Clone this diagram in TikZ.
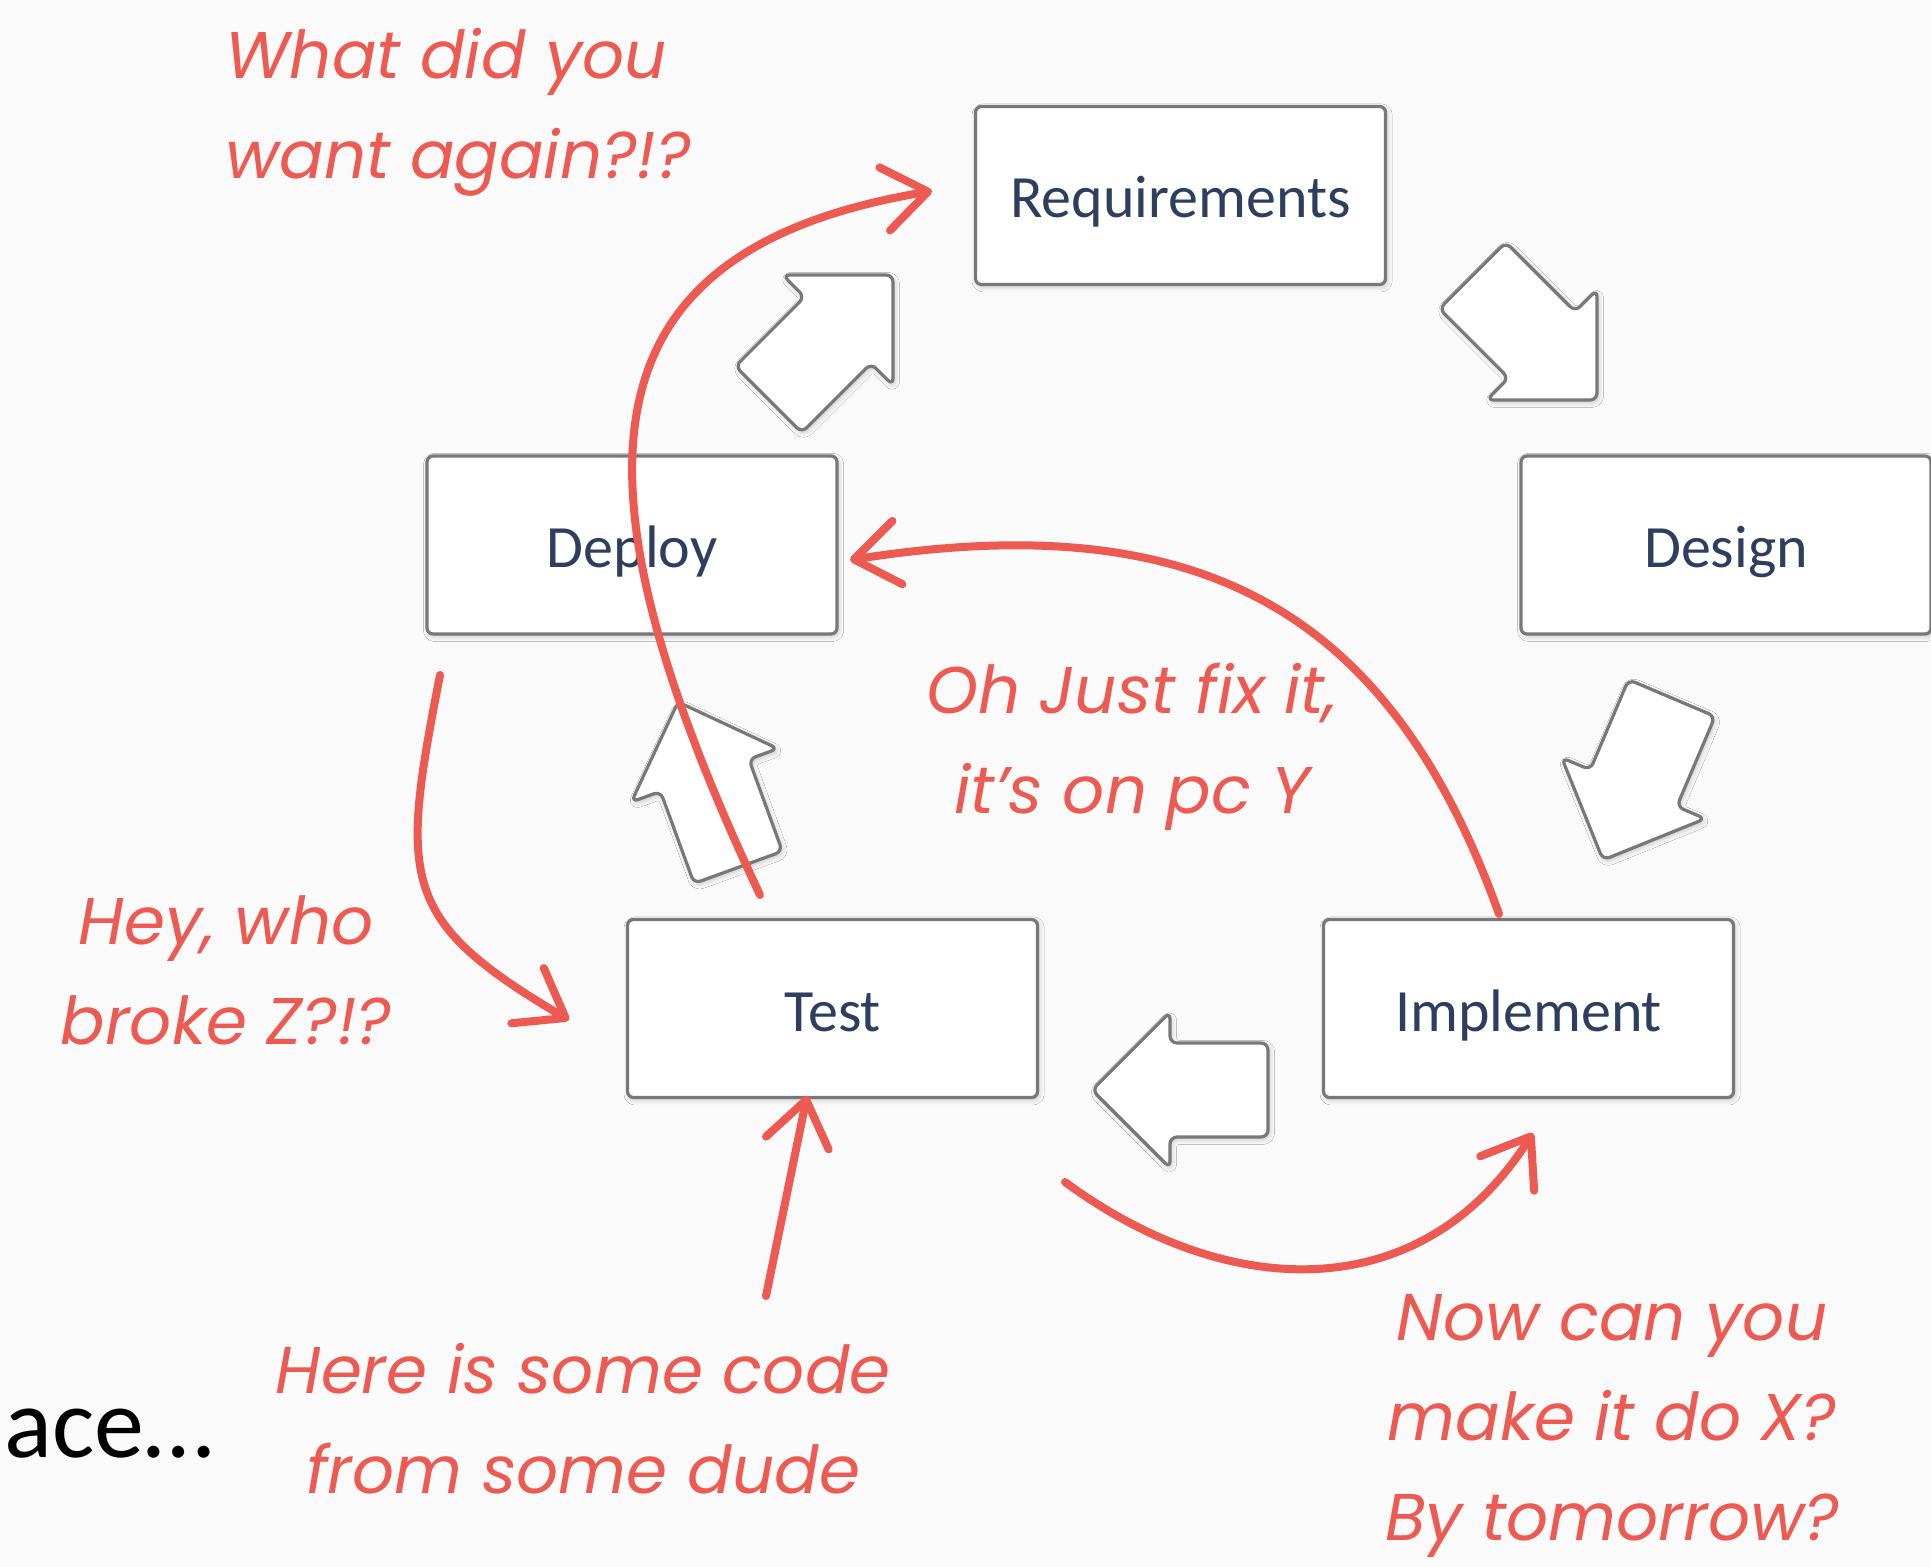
\documentclass[tikz,border=0pt]{standalone}
\usepackage{fontspec}
\usetikzlibrary{arrows.meta,shadows.blur}
\newfontfamily\boxfont{Carlito}
\newfontfamily\handfont{Poppins}
\definecolor{bg}{RGB}{250,250,250}
\definecolor{boxline}{RGB}{120,120,120}
\definecolor{boxtext}{RGB}{45,62,95}
\definecolor{scribble}{RGB}{236,90,82}
\begin{document}
\begin{tikzpicture}[x=0.5pt,y=-0.5pt,
  stage/.style={draw=boxline, line width=1.6pt, fill=white, rounded corners=3pt,
    minimum width=205pt, minimum height=89pt, inner sep=0pt,
    font=\boxfont\fontsize{30}{36}\selectfont, text=boxtext,
    text height=22.5pt, text depth=0pt,
    blur shadow={shadow blur radius=2.5pt, shadow xshift=0.8pt,
      shadow yshift=-1.2pt, shadow opacity=22}},
  note/.style={text=scribble, inner sep=0pt,
    font=\handfont\itshape\fontsize{33}{50}\selectfont},
  scrib/.style={draw=scribble, line width=4pt, line cap=round, line join=round,
    -{Straight Barb[length=22pt,width=32pt,round]}},
  blockarr/.pic={
    \draw[draw=boxline, line width=1.6pt, fill=white, rounded corners=3.5pt,
      line join=round,
      blur shadow={shadow blur radius=2.5pt, shadow xshift=0.8pt,
        shadow yshift=-1.2pt, shadow opacity=22}]
      (0,0) -- (-78,-78) -- (-78,-47) -- (-176,-47) -- (-176,47)
      -- (-78,47) -- (-78,78) -- cycle;}
]
\useasboundingbox (0,0) rectangle (1931,1567);
\fill[bg] (0,0) rectangle (1931,1567);
\clip (0,0) rectangle (1931,1567);

% the five stages of the cycle
\node[stage] (req)    at (1180.5,195.5)  {Requirements};
\node[stage] (design) at (1726,545)      {Design};
\node[stage] (deploy) at (632,545)       {Deploy};
\node[stage] (test)   at (832.5,1008.5)  {Test};
\node[stage] (impl)   at (1528.5,1008.5) {Implement};

% block arrows between the stages (tip position, direction)
\pic[rotate=-45]  at (1597,400)  {blockarr};
\pic[rotate=-113] at (1603,860)  {blockarr};
\pic[rotate=180]  at (1092,1090) {blockarr};
\pic[rotate=110]  at (678,702)   {blockarr};
\pic[rotate=45]   at (893,275)   {blockarr};

% scribbled shortcuts
\coordinate (aS) at (760,895);   \coordinate (aE) at (932,191);
\coordinate (bS) at (1499,914);  \coordinate (bE) at (850,560);
\coordinate (cS) at (440,675);   \coordinate (cE) at (569,1020);
\coordinate (dS) at (1065,1182); \coordinate (dE) at (1533,1133);
\coordinate (eS) at (766,1296);  \coordinate (eE) at (807,1096);
\draw[scrib] (aS) .. controls (560,470) and (580,250) .. (aE);
\draw[scrib] (bS) .. controls (1390,610) and (1200,505) .. (bE);
\draw[scrib] (cS) .. controls (400,880) and (399,920) .. (cE);
\draw[scrib] (dS) .. controls (1225,1300) and (1420,1310) .. (dE);
\draw[scrib] (eS) -- (eE);

% scribbled remarks (anchored at the baseline of their last line)
\node[note, align=left, anchor=base west] (qwhat) at (225,179) {What did you\\want again?!?};
\node[note, align=center, anchor=base] (qfix)  at (1132,813)  {Oh Just fix it,\\it’s on pc Y};
\node[note, align=center, anchor=base] (qwho)  at (226,1044)  {Hey, who\\broke Z?!?};
\node[note, align=center, anchor=base] (qcode) at (583,1493)  {Here is some code\\from some dude};
\node[note, align=center, anchor=base] (qnow)  at (1612,1540) {Now can you\\make it do X?\\By tomorrow?};

\node[anchor=base west, inner sep=0pt, font=\boxfont\fontsize{50}{60}\selectfont, text=black]
  (tail) at (4,1457) {ace…};
\end{tikzpicture}
\end{document}
